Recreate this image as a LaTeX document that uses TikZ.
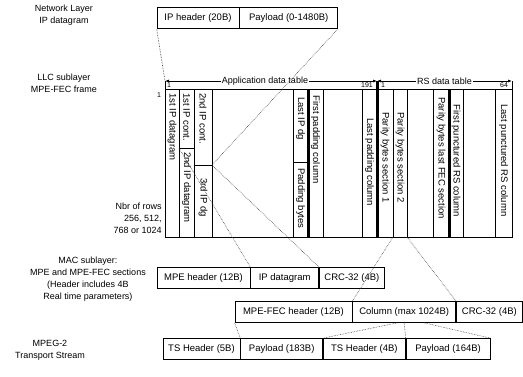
\documentclass[tikz,border=0pt]{standalone}
\usepackage{fontspec}
\setmainfont{Liberation Sans}
\usetikzlibrary{positioning,arrows.meta}

\begin{document}
\begin{tikzpicture}[x=1pt,y=-1pt,line width=0.7pt,
        lbl/.style={font=\fontsize{9}{12}\selectfont, align=center, inner sep=0pt},
        cell/.style={draw, minimum height=21pt, inner sep=0pt, font=\fontsize{9.5}{11}\selectfont},
        colt/.style={rotate=-90, anchor=west, inner sep=0pt, font=\fontsize{9.5}{11}\selectfont},
        hdr/.style={inner sep=0pt, font=\fontsize{7}{8}\selectfont},
        heavy/.style={line width=3pt},
        map/.style={densely dotted, line width=0.6pt, black!75}]
        \useasboundingbox (0,0) rectangle (523,376);

        \node[lbl] (netlbl) at (64,15) {Network Layer\\IP datagram};
        \node[lbl] (llclbl) at (64,83) {LLC sublayer\\MPE-FEC frame};
        \node[lbl, anchor=east, align=right] (rowlbl) at (162,218) {Nbr of rows\\256, 512,\\768 or 1024};
        \node[lbl] (maclbl) at (88,279) {MAC sublayer:\\MPE and MPE-FEC sections\\(Header includes 4B\\Real time parameters)};
        \node[lbl] (tslbl) at (50,350) {MPEG-2\\Transport Stream};

        \node[cell, minimum width=82pt] (iphdr) at (198,18) {IP header (20B)};
        \node[cell, minimum width=98pt, right=0pt of iphdr] (ippay) {Payload (0-1480B)};

        \coordinate (frmstart) at (165,81);
        \coordinate (split) at (377,81);
        \coordinate (frmend) at (512,81);
        \coordinate (dgtop) at (179,148);
        \coordinate (dgend) at (212,165);
        \coordinate (parA) at (393,237);
        \coordinate (parB) at (407,237);

        \draw[{Latex[length=4pt,width=3pt]}-{Latex[length=4pt,width=3pt]}] (frmstart) -- node[lbl, fill=white, inner sep=1pt, xshift=-6pt] {Application data table} (split);
        \draw[{Latex[length=4pt,width=3pt]}-{Latex[length=4pt,width=3pt]}] (split) -- node[lbl, fill=white, inner sep=1pt] {RS data table} (frmend);
        \draw (frmstart) -- (165,237) -- (512,237) -- (frmend);
        \draw (165,89) -- (512,89);
        \foreach \x in {179,194,212,293,323,362,393,407,433,463,495}
            \draw (\x,89) -- (\x,237);
        \draw[heavy] (308,89) -- (308,237);
        \draw[heavy] (split) -- (377,237);
        \draw[heavy] (449,89) -- (449,237);
        \draw (179,148) -- (194,148);
        \draw (194,165) -- (212,165);
        \draw (293,162) -- (308,162);

        \node[hdr] (h1) at (169,85) {1};
        \node[hdr] (h191) at (367,85) {191};
        \node[hdr] (h1b) at (383,85) {1};
        \node[hdr] (h64) at (504,85) {64};
        \node[hdr] (r1) at (159,95) {1};

        \node[colt] (c1) at (172,93) {1st IP datagram};
        \node[colt] (c2a) at (186.5,93) {1st IP cont.};
        \node[colt] (c2b) at (186.5,152) {2nd IP datagram};
        \node[colt] (c3a) at (203,93) {2nd IP cont.};
        \node[colt] (c3b) at (203,178) {3rd IP dg};
        \node[colt] (c4a) at (300.5,97) {Last IP dg};
        \node[colt] (c4b) at (300.5,168) {Padding bytes};
        \node[colt] (c5) at (315.5,95) {First padding column};
        \node[colt] (c6) at (369.5,118) {Last padding column};
        \node[colt] (c7) at (385,112) {Parity bytes section 1};
        \node[colt] (c8) at (400,112) {Parity bytes section 2};
        \node[colt] (c9) at (441,97) {Parity bytes last FEC section};
        \node[colt] (c10) at (456,104) {First punctured RS column};
        \node[colt] (c11) at (503.5,104) {Last punctured RS column};

        \node[cell, minimum width=93pt] (mpehdr) at (203.5,278) {MPE header (12B)};
        \node[cell, minimum width=68pt, right=0pt of mpehdr] (ipdg) {IP datagram};
        \node[cell, minimum width=65pt, right=0pt of ipdg] (mpecrc) {CRC-32 (4B)};

        \node[cell, minimum width=117pt] (fechdr) at (293.5,312) {MPE-FEC header (12B)};
        \node[cell, minimum width=103pt, right=0pt of fechdr] (feccol) {Column (max 1024B)};
        \node[cell, minimum width=66pt, right=0pt of feccol] (feccrc) {CRC-32 (4B)};

        \node[cell, minimum width=77pt] (ts1) at (201.5,349) {TS Header (5B)};
        \node[cell, minimum width=82pt, right=0pt of ts1] (pl1) {Payload (183B)};
        \node[cell, minimum width=82pt, right=0pt of pl1] (ts2) {TS Header (4B)};
        \node[cell, minimum width=84pt, right=0pt of ts2] (pl2) {Payload (164B)};

        \draw[map] (iphdr.south west) -- (frmstart);
        \draw[map] (ippay.south east) -- (dgend);
        \draw[map] (dgtop) -- (ipdg.north west);
        \draw[map] (dgend) -- (ipdg.north east);
        \draw[map] (parA) -- (feccol.north west);
        \draw[map] (parB) -- (feccol.north east);
        \draw[map] (fechdr.south west) -- (ts1.north east);
        \draw[map] ([xshift=-7pt]feccol.south) -- (pl1.north east);
        \draw[map] (feccol.south) -- (ts2.north east);
        \draw[map] ([xshift=20pt]feccol.south) -- (pl2.north east);
\end{tikzpicture}
\end{document}
